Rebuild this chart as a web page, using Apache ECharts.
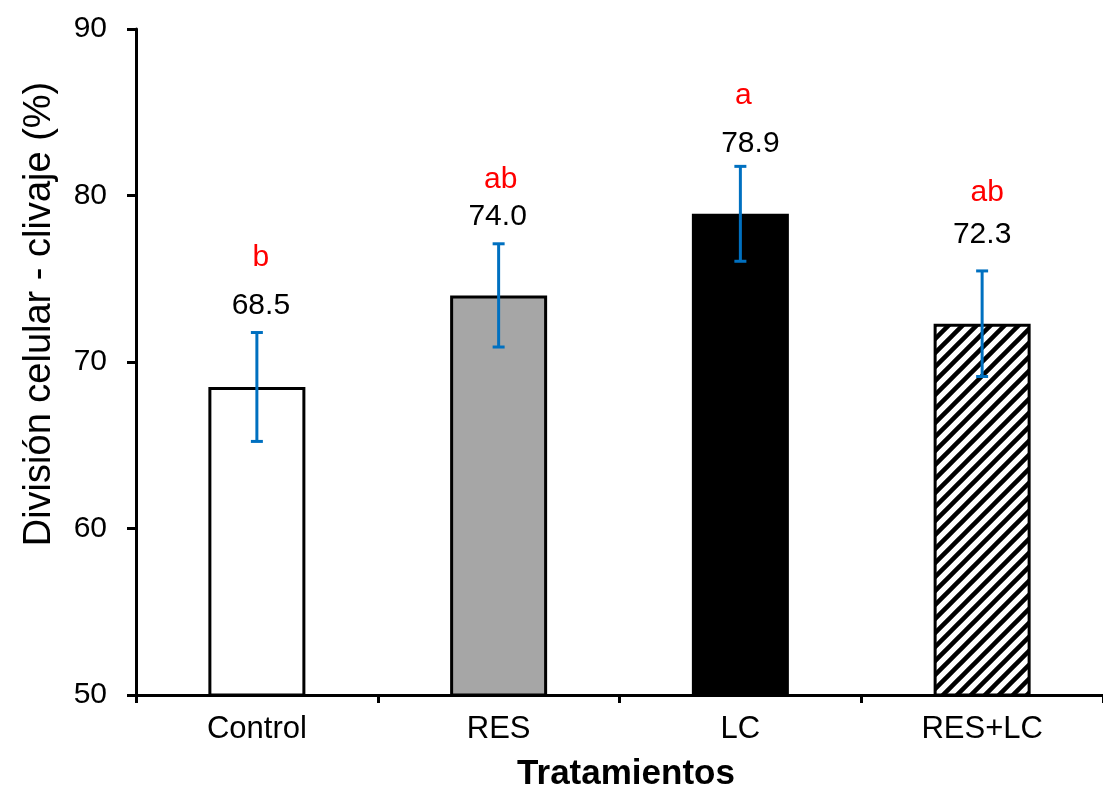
<!DOCTYPE html>
<html>
<head>
<meta charset="utf-8">
<script src="https://cdn.jsdelivr.net/npm/echarts@6/dist/echarts.min.js"></script>
<style>
html,body{margin:0;padding:0;background:#fff;}
#chart{width:1103px;height:793px;}
</style>
</head>
<body>
<div id="chart"></div>
<script>
// ---- data ----
const categories = ['Control', 'RES', 'LC', 'RES+LC'];
const means = [68.5, 74.0, 78.9, 72.3];
const errors = [3.27, 3.10, 2.85, 3.17];
const valueLabels = ['68.5', '74.0', '78.9', '72.3'];
const letters = ['b', 'ab', 'a', 'ab'];
const yTicks = [50, 60, 70, 80, 90];

// ---- layout / style (pixels) ----
const valueOffsetY = [27, 27, 22.5, 36.5];
const valueOffsetX = [4, -1, 10, 0];
const letterOffsetY = [75, 64.5, 70.5, 78.5];
const letterOffsetX = [4, 2, 3, 5];
const FONT = 'Liberation Sans, Arial, sans-serif';

function hatchPattern() {
  const s = 14;
  const c = document.createElement('canvas');
  c.width = s; c.height = s;
  const g = c.getContext('2d');
  g.fillStyle = '#fff';
  g.fillRect(0, 0, s, s);
  g.strokeStyle = '#000';
  g.lineWidth = 4.5;
  g.beginPath();
  g.moveTo(-s, s); g.lineTo(s, -s);
  g.moveTo(0, 2 * s); g.lineTo(2 * s, 0);
  g.moveTo(0, s); g.lineTo(s, 0);
  g.stroke();
  return c;
}

const barColors = ['#ffffff', '#a6a6a6', '#000000', { image: hatchPattern(), repeat: 'repeat' }];

const chart = echarts.init(document.getElementById('chart'), null, { renderer: 'canvas' });

const option = {
  animation: false,
  backgroundColor: '#ffffff',
  grid: { left: 136, top: 29, width: 975, height: 666, containLabel: false },
  xAxis: {
    type: 'category',
    data: categories,
    boundaryGap: true,
    axisLine: { lineStyle: { color: '#000', width: 3 } },
    axisTick: { show: true, length: 8, lineStyle: { color: '#000', width: 3 } },
    axisLabel: { color: '#000', fontSize: 31, fontFamily: FONT, margin: 19 },
    splitLine: { show: false }
  },
  yAxis: {
    type: 'value',
    min: yTicks[0],
    max: yTicks[yTicks.length - 1],
    interval: yTicks[1] - yTicks[0],
    axisLine: { show: true, lineStyle: { color: '#000', width: 3 } },
    axisTick: { show: true, length: 9, lineStyle: { color: '#000', width: 3 } },
    axisLabel: { color: '#000', fontSize: 30, fontFamily: FONT, margin: 29 },
    splitLine: { show: false }
  },
  graphic: [
    {
      type: 'text',
      x: 40, y: 314,
      rotation: Math.PI / 2,
      style: {
        text: 'División celular - clivaje (%)',
        fill: '#000',
        font: '38px ' + FONT,
        textAlign: 'center',
        textVerticalAlign: 'middle'
      }
    },
    {
      type: 'text',
      x: 626, y: 774,
      style: {
        text: 'Tratamientos',
        fill: '#000',
        font: 'bold 35px ' + FONT,
        textAlign: 'center',
        textVerticalAlign: 'middle'
      }
    }
  ],
  series: [
    {
      type: 'bar',
      data: means.map((v, i) => ({
        value: v,
        itemStyle: { color: barColors[i], borderColor: '#000', borderWidth: 3 }
      })),
      barWidth: 97,
      z: 2
    },
    {
      type: 'custom',
      data: means.map((m, i) => [i, m - errors[i], m + errors[i]]),
      z: 5,
      renderItem: function (params, api) {
        const i = api.value(0);
        const lo = api.coord([i, api.value(1)]);
        const hi = api.coord([i, api.value(2)]);
        const cap = 6;
        const st = { stroke: '#0070c0', lineWidth: 3 };
        return {
          type: 'group',
          children: [
            { type: 'line', shape: { x1: hi[0], y1: hi[1], x2: lo[0], y2: lo[1] }, style: st },
            { type: 'line', shape: { x1: hi[0] - cap, y1: hi[1], x2: hi[0] + cap, y2: hi[1] }, style: st },
            { type: 'line', shape: { x1: lo[0] - cap, y1: lo[1], x2: lo[0] + cap, y2: lo[1] }, style: st },
            {
              type: 'text',
              x: hi[0] + valueOffsetX[i], y: hi[1] - valueOffsetY[i],
              style: { text: valueLabels[i], fill: '#000', font: '30px ' + FONT, textAlign: 'center', textVerticalAlign: 'middle' }
            },
            {
              type: 'text',
              x: hi[0] + letterOffsetX[i], y: hi[1] - letterOffsetY[i],
              style: { text: letters[i], fill: '#ff0000', font: '30px ' + FONT, textAlign: 'center', textVerticalAlign: 'middle' }
            }
          ]
        };
      }
    }
  ]
};
chart.setOption(option);
</script>
</body>
</html>
